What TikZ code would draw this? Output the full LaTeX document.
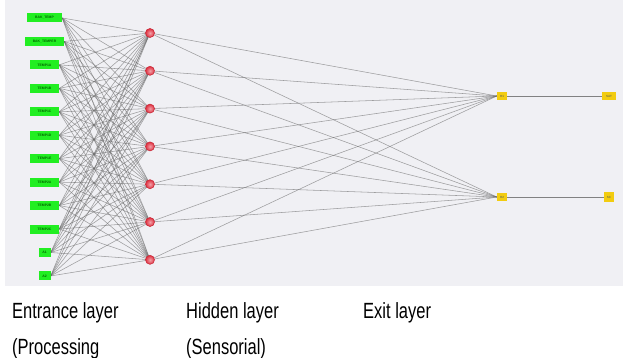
\documentclass[tikz,border=0pt]{standalone}
\usepackage{fontspec}
\setmainfont{Liberation Sans}
\newfontfamily\capfont[FakeStretch=0.75]{Liberation Sans}
\usetikzlibrary{backgrounds}
\definecolor{panelgray}{HTML}{F0F0F4}
\definecolor{ingreen}{HTML}{22EE22}
\definecolor{hidred}{HTML}{E03040}
\definecolor{outyellow}{HTML}{F2CC10}
\tikzset{
  innode/.style={fill=ingreen, inner sep=0pt, minimum height=9pt,
    font=\fontsize{3.4}{4}\selectfont\bfseries, text=black!60!green},
  hidnode/.style={circle, inner sep=0pt, minimum size=9pt, draw=hidred!90!black,
    line width=0.6pt, inner color=hidred!45, outer color=hidred},
  exitnode/.style={fill=outyellow, inner sep=0pt, minimum height=8pt,
    font=\fontsize{3}{4}\selectfont\bfseries, text=black!60!yellow},
  link/.style={draw=black!60, line width=0.55pt, opacity=0.6},
  caption/.style={anchor=base west, inner sep=0pt, font=\capfont\fontsize{22}{24}\selectfont}
}
\begin{document}
\begin{tikzpicture}[x=1pt, y=-1pt]
\useasboundingbox (0,0) rectangle (623,358);

% entrance layer
\foreach \i/\w/\lab in {1/35/BAK\_TEMP, 2/39/BAK\_TEMPER, 3/29/TEMP1A, 4/29/TEMP1B,
    5/29/TEMP1C, 6/29/TEMP1D, 7/29/TEMP1E, 8/29/TEMP2A, 9/29/TEMP2B,
    10/29/TEMP2C, 11/12/A1, 12/12/A2}
  \node[innode, minimum width=\w pt] (g\i) at (44.5, {18+23.45*(\i-1)}) {\lab};

% hidden layer
\foreach \j in {1,...,7}
  \node[hidnode] (h\j) at (150, {33+37.8*(\j-1)}) {};

% exit layer
\node[exitnode, minimum width=10pt] (o1) at (502,96) {H1};
\node[exitnode, minimum width=10pt] (o2) at (502,197) {H2};
\node[exitnode, minimum width=14pt] (y1) at (609,96) {SAT};
\node[exitnode, minimum width=10pt, minimum height=10pt] (y2) at (609,197) {SC};

\begin{pgfonlayer}{background}
  \fill[panelgray] (5,0) rectangle (623,286);
  \foreach \i in {1,...,12}
    \foreach \j in {1,...,7}
      \draw[link] (g\i.east) -- (h\j.center);
  \foreach \j in {1,...,7}
    \foreach \k in {1,2}
      \draw[link] (h\j.center) -- (o\k.west);
  \draw[link, opacity=0.8] (o1) -- (y1);
  \draw[link, opacity=0.8] (o2) -- (y2);
\end{pgfonlayer}

% layer captions
\node[caption] (c1) at (12,318) {Entrance layer};
\node[caption] (c2) at (12,354) {(Processing};
\node[caption] (c3) at (186,318) {Hidden layer};
\node[caption] (c4) at (186,354) {(Sensorial)};
\node[caption] (c5) at (363,318) {Exit layer};
\end{tikzpicture}
\end{document}
